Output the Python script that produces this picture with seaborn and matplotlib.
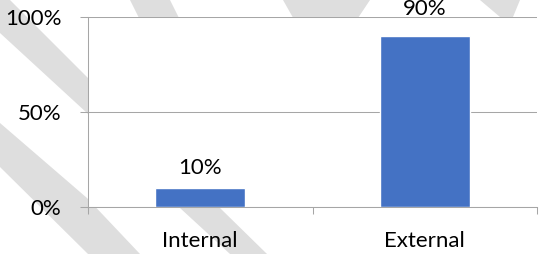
import matplotlib
matplotlib.use("Agg")
import matplotlib.pyplot as plt
import seaborn as sns
import pandas as pd
from matplotlib.patches import Polygon

# data
categories = ["Internal", "External"]
shares = [0.10, 0.90]
y_ticks = [0, 0.5, 1.0]
y_tick_labels = ["0%", "50%", "100%"]

df = pd.DataFrame({"source": categories, "share": shares})

sns.set_theme(style="white")
plt.rcParams["font.family"] = ["Lato", "DejaVu Sans"]

W, H = 540, 254
fig = plt.figure(figsize=(W / 100, H / 100), dpi=100)
fig.patch.set_facecolor("white")

# light grey watermark bands behind the plot area (pixel coords)
stripes = [
    [(0, 0), (10, 0), (87, 77), (220, 208), (267, 254), (230, 254), (180, 208), (87, 113), (0, 33)],
    [(0, 123), (87, 198), (140, 254), (88, 254), (0, 167)],
    [(130, 0), (170, 0), (185, 30), (145, 30)],
    [(283, 0), (370, 0), (350, 30), (300, 30)],
    [(480, 0), (520, 0), (513, 17), (500, 17)],
]
for pts in stripes:
    fig.add_artist(Polygon([(x / W, 1 - y / H) for x, y in pts], closed=True,
                           transform=fig.transFigure, facecolor="#DEDEDE",
                           edgecolor="none", zorder=-1))

ax = fig.add_axes([88 / W, 47 / H, 449 / W, 190 / H])
ax.set_facecolor("white")

sns.barplot(data=df, x="source", y="share", color="#4472C4", saturation=1,
            width=0.4, ax=ax, zorder=3)

ax.set_xlim(-0.5, 1.5)
ax.set_ylim(0, 1)
ax.set_yticks(y_ticks)
ax.set_yticklabels(y_tick_labels)
ax.set_xlabel("")
ax.set_ylabel("")

grid_col = "#A6A6A6"
ax.grid(axis="y", color=grid_col, lw=0.75)
ax.set_axisbelow(True)
for side in ["top", "right"]:
    ax.spines[side].set_visible(False)
for side in ["left", "bottom"]:
    ax.spines[side].set_color(grid_col)
    ax.spines[side].set_linewidth(0.75)

ax.tick_params(axis="y", left=True, length=6, width=0.75, color=grid_col,
               pad=13, labelsize=16, labelcolor="black")
ax.tick_params(axis="x", bottom=True, length=0, pad=17, labelsize=16,
               labelcolor="black")
ax.set_xticks([-0.5, 0.5, 1.5], minor=True)
ax.tick_params(axis="x", which="minor", bottom=True, length=5, width=0.75,
               color=grid_col, direction="out")

# data labels above the bars
label_offsets = [10, 15]
for patch, val, off in zip(ax.patches, shares, label_offsets):
    ax.annotate(f"{val:.0%}", (patch.get_x() + patch.get_width() / 2, val),
                xytext=(0, off), textcoords="offset points", ha="center",
                va="baseline", fontsize=16, color="black", annotation_clip=False)

fig.savefig("out.png", dpi=100)
